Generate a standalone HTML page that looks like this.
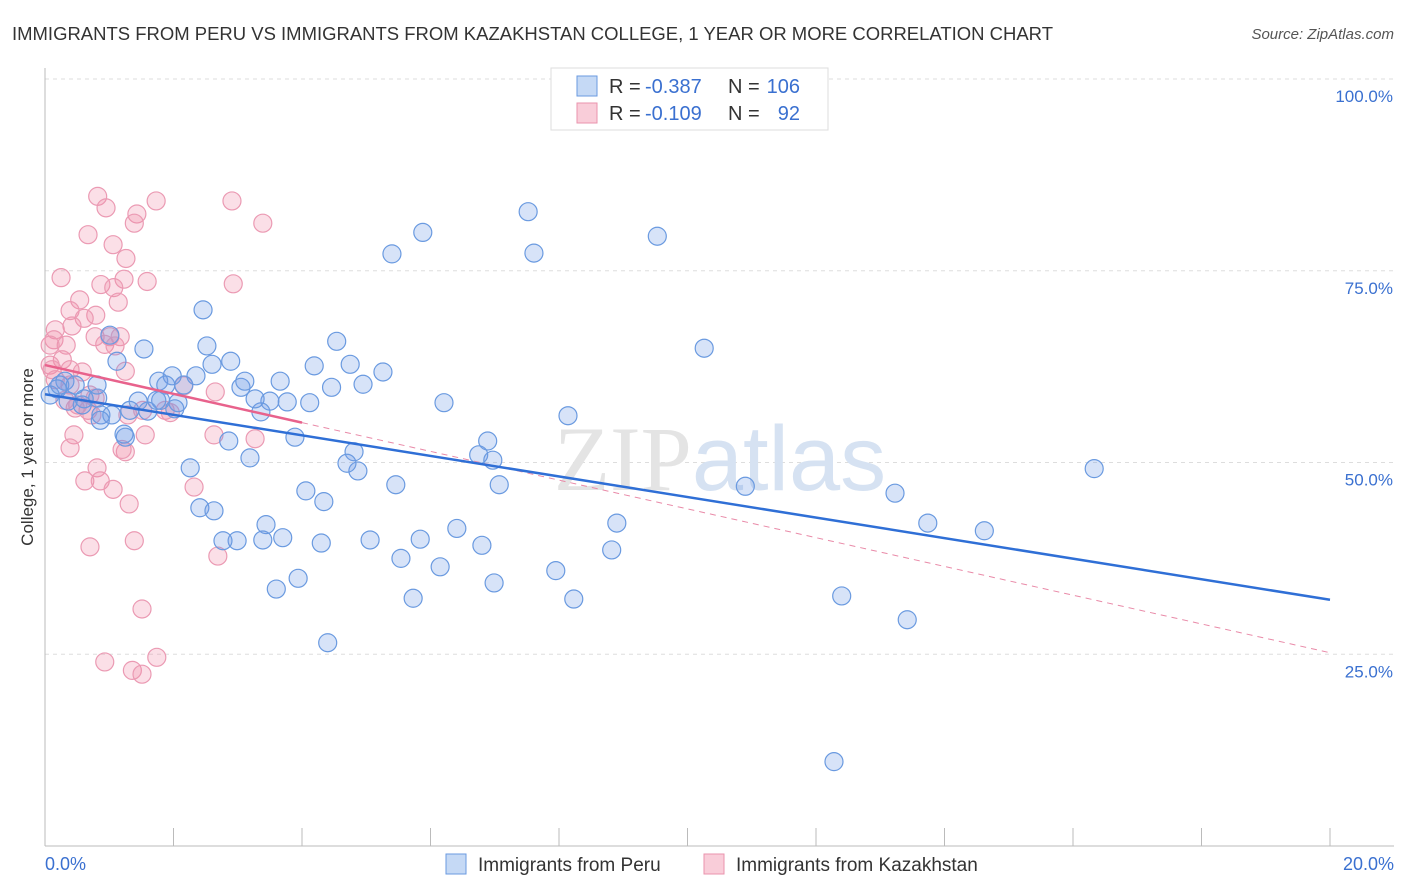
<!DOCTYPE html>
<html><head><meta charset="utf-8"><style>
body{margin:0;background:#fff;font-family:"Liberation Sans",sans-serif;}
svg{display:block}
</style></head><body>
<svg width="1406" height="892" xmlns="http://www.w3.org/2000/svg">
<text x="12" y="40" font-size="18" fill="#333" textLength="1041" lengthAdjust="spacingAndGlyphs">IMMIGRANTS FROM PERU VS IMMIGRANTS FROM KAZAKHSTAN COLLEGE, 1 YEAR OR MORE CORRELATION CHART</text>
<text x="1394" y="39" font-size="15" fill="#555" font-style="italic" text-anchor="end">Source: ZipAtlas.com</text>
<g id="grid"></g>
<text x="720" y="490" font-size="92" fill="#e4e4e4" text-anchor="middle" font-family="Liberation Serif">ZIP<tspan fill="#d6e2f2" font-family="Liberation Sans">atlas</tspan></text>
<g id="axes"></g>
<g id="pts"></g>
<g id="trend"></g>
<text transform="translate(33,457) rotate(-90)" font-size="17" fill="#333" text-anchor="middle">College, 1 year or more</text>
<g>
<rect x="551" y="68" width="277" height="62" fill="#fff" stroke="#ddd"/>
<rect x="577" y="76" width="20" height="20" fill="#c5d9f5" stroke="#6a9ae0"/>
<rect x="577" y="103" width="20" height="20" fill="#f9cdd9" stroke="#ea93ad"/>
<text x="609" y="93" font-size="20" fill="#333">R =</text>
<text x="645" y="93" font-size="20" fill="#3a70d0">-0.387</text>
<text x="728" y="93" font-size="20" fill="#333">N =</text>
<text x="800" y="93" font-size="20" fill="#3a70d0" text-anchor="end">106</text>
<text x="609" y="120" font-size="20" fill="#333">R =</text>
<text x="645" y="120" font-size="20" fill="#3a70d0">-0.109</text>
<text x="728" y="120" font-size="20" fill="#333">N =</text>
<text x="800" y="120" font-size="20" fill="#3a70d0" text-anchor="end">92</text>
</g>
<g>
<rect x="446" y="854" width="20" height="20" fill="#c5d9f5" stroke="#6a9ae0"/>
<text x="478" y="871" font-size="19" fill="#333">Immigrants from Peru</text>
<rect x="704" y="854" width="20" height="20" fill="#f9cdd9" stroke="#ea93ad"/>
<text x="736" y="871" font-size="19" fill="#333">Immigrants from Kazakhstan</text>
</g>
</svg>
<script>
const xTicks=[0,20];
const yTicks=[25,50,75,100];
const blueX=[5.88,7.52,7.61,9.53,5.40,10.26,16.33,13.23,10.9,13.74,14.62,12.4,13.42,12.28,8.14,6.21,6.89,6.75,6.97,7.07,8.9,8.82,7.95,8.23,6.99,6.80,6.41,6.15,5.84,5.73,5.54,5.06,5.46,4.81,4.87,4.70,5.26,4.95,4.75,4.54,4.46,4.19,4.12,3.89,3.77,4.06,4.34,4.30,3.94,3.60,4.40,3.44,3.39,3.70,3.19,2.86,2.99,2.77,2.41,2.63,2.26,3.66,3.50,3.36,3.27,3.05,3.11,2.89,2.60,2.52,2.46,2.35,2.16,1.98,1.77,1.88,1.54,1.80,2.07,2.02,1.60,1.45,1.32,1.04,0.87,0.86,1.23,1.25,0.82,0.81,1.01,1.12,0.61,0.58,0.36,0.31,0.19,0.08,0.23,0.47,1.74];
const blueY=[80.0,82.7,77.3,79.5,77.2,64.9,49.2,46.0,46.9,42.1,41.1,32.6,29.5,11.0,56.1,57.8,52.8,51.0,50.3,47.1,42.1,38.6,35.9,32.2,34.3,39.2,41.4,36.4,40.0,32.3,37.5,39.9,47.1,51.4,48.9,49.9,61.8,60.2,62.8,65.8,59.8,62.6,57.8,53.3,57.9,46.3,44.9,39.5,34.9,33.5,26.5,41.9,39.9,40.2,50.6,52.8,39.8,39.8,44.1,43.7,49.3,60.6,58.0,56.6,58.3,59.8,60.6,63.2,62.8,65.2,69.9,61.3,60.1,61.3,60.6,60.1,64.8,58.1,57.8,57.0,56.7,58.0,56.8,56.2,56.2,55.5,53.7,53.3,58.4,60.1,66.6,63.2,58.3,57.5,58.0,60.6,59.6,58.8,60.1,60.1,58.1];
const pinkX=[0.82,1.73,2.91,0.95,1.43,1.39,3.39,0.67,1.06,1.26,0.25,1.23,1.59,2.93,0.87,1.07,0.54,1.14,0.39,0.79,0.61,0.42,0.16,0.14,0.78,1.01,1.17,0.93,1.09,0.33,0.08,0.27,0.39,0.58,1.25,0.08,0.16,0.39,0.70,0.78,0.51,0.67,0.73,0.47,1.29,1.52,1.87,1.95,2.16,2.65,0.45,1.56,2.63,3.27,0.39,1.25,1.20,0.81,0.62,0.86,1.06,2.32,1.31,0.70,1.39,2.69,1.51,0.93,1.74,1.36,1.51,0.31,0.11];
const pinkY=[84.7,84.1,84.1,83.2,82.4,81.2,81.2,79.7,78.4,76.6,74.1,73.9,73.6,73.3,73.2,72.8,71.2,70.9,69.8,69.2,68.8,67.8,67.3,66.0,66.4,66.4,66.4,65.4,65.2,65.3,65.3,63.4,62.1,61.8,61.9,62.7,60.8,60.1,58.8,58.4,57.5,56.8,56.2,57.1,56.2,56.8,56.8,56.5,60.0,59.2,53.6,53.6,53.6,53.1,51.9,51.4,51.7,49.3,47.6,47.6,46.5,46.8,44.6,39.0,39.8,37.8,30.9,24.0,24.6,22.9,22.4,58.1,62.1];
const blueTrend=[58.9,32.1];
const pinkTrend=[62.7,25.2];
const pinkSolidEnd=4.0;
const NS="http://www.w3.org/2000/svg";
const X=v=>45+v*64.25, Y=v=>846-v*7.67;
function mk(tag,attrs,parent){const e=document.createElementNS(NS,tag);for(const k in attrs)e.setAttribute(k,attrs[k]);parent.appendChild(e);return e;}
const grid=document.getElementById('grid'),axes=document.getElementById('axes');
yTicks.forEach(t=>{
 const l=mk('line',{x1:45,x2:1394,y1:Y(t),y2:Y(t),stroke:'#ddd','stroke-dasharray':'4,4'},grid);
 
 
 const tx=mk('text',{x:1393,y:Y(t)+23,'font-size':17,fill:'#3a70d0','text-anchor':'end'},axes);
 tx.textContent=t.toFixed(1)+'%';
 
 
});
const ya=mk('line',{x1:45,x2:45,y1:68,y2:846,stroke:'#bbb'},axes);


const xa=mk('line',{x1:45,x2:1394,y1:846,y2:846,stroke:'#bbb'},axes);


for(let i=0;i<=10;i++){
 const tk=mk('line',{x1:X(i*2),x2:X(i*2),y1:828,y2:846,stroke:'#bbb'},axes);
 
 
}
xTicks.forEach((t,i)=>{
 const tx=mk('text',{x:i==0?45:1394,y:870,'font-size':18,fill:'#3a70d0','text-anchor':i==0?'start':'end'},axes);
 tx.textContent=t.toFixed(1)+'%';
 
 
});
const pts=document.getElementById('pts');
pinkX.forEach((x,i)=>{
 const c=mk('circle',{cx:X(x),cy:Y(pinkY[i]),r:9,fill:'rgba(240,140,170,0.28)',stroke:'#eb9ab3','stroke-width':1.2},pts);
 
 
});
blueX.forEach((x,i)=>{
 const c=mk('circle',{cx:X(x),cy:Y(blueY[i]),r:9,fill:'rgba(110,155,230,0.28)',stroke:'#6a9ae0','stroke-width':1.2},pts);
 
 
});
const tr=document.getElementById('trend');
const pAt=x=>pinkTrend[0]+(pinkTrend[1]-pinkTrend[0])*x/20;
const pd=mk('line',{x1:X(pinkSolidEnd),y1:Y(pAt(pinkSolidEnd)),x2:X(20),y2:Y(pinkTrend[1]),stroke:'#e98aa8','stroke-width':1,'stroke-dasharray':'6,5'},tr);


const ps=mk('line',{x1:X(0),y1:Y(pinkTrend[0]),x2:X(pinkSolidEnd),y2:Y(pAt(pinkSolidEnd)),stroke:'#e8628c','stroke-width':2.5},tr);


const bl=mk('line',{x1:X(0),y1:Y(blueTrend[0]),x2:X(20),y2:Y(blueTrend[1]),stroke:'#2f6fd6','stroke-width':2.5},tr);


</script>
</body></html>
